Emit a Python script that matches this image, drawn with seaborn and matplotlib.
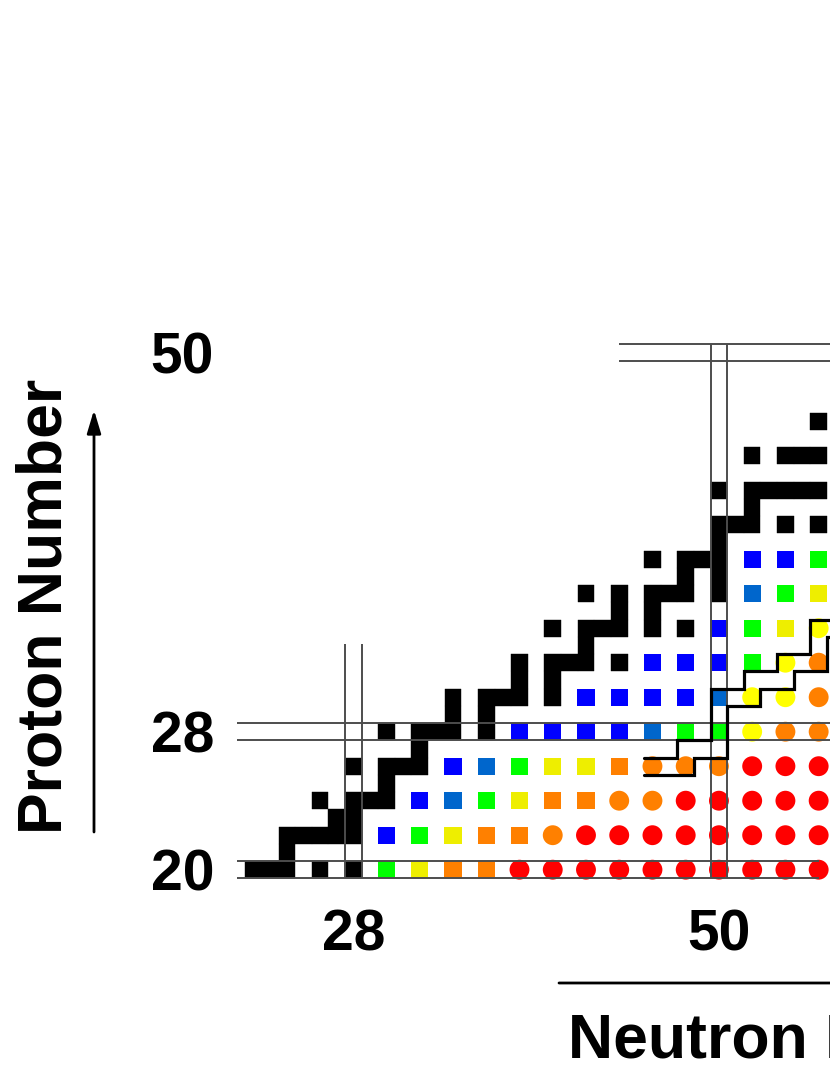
"""Segment of the nuclide chart around N=28-56, Z=20-50 (even-even nuclei coloured)."""
import matplotlib
matplotlib.use("Agg")
import matplotlib.pyplot as plt
import numpy as np
import pandas as pd
import seaborn as sns

# ---- data -------------------------------------------------------------
# even-even nuclei drawn as squares
sq_N = [30, 32, 34, 36,
        30, 32, 34, 36, 38,
        32, 34, 36, 38, 40, 42,
        34, 36, 38, 40, 42, 44,
        38, 40, 42, 44, 46, 48, 50,
        42, 44, 46, 48, 50,
        46, 48, 50, 52,
        50, 52, 54,
        52, 54, 56,
        52, 54, 56]
sq_Z = [20, 20, 20, 20,
        22, 22, 22, 22, 22,
        24, 24, 24, 24, 24, 24,
        26, 26, 26, 26, 26, 26,
        28, 28, 28, 28, 28, 28, 28,
        30, 30, 30, 30, 30,
        32, 32, 32, 32,
        34, 34, 34,
        36, 36, 36,
        38, 38, 38]
sq_cls = ["green", "yellow", "orange", "orange",
          "blue", "green", "yellow", "orange", "orange",
          "blue", "dblue", "green", "yellow", "orange", "orange",
          "blue", "dblue", "green", "yellow", "yellow", "orange",
          "blue", "blue", "blue", "blue", "dblue", "green", "green",
          "blue", "blue", "blue", "blue", "dblue",
          "blue", "blue", "blue", "green",
          "blue", "green", "yellow",
          "dblue", "green", "yellow",
          "blue", "blue", "green"]

# even-even nuclei drawn as circles
ci_N = [38, 40, 42, 44, 46, 48, 50, 52, 54, 56,
        40, 42, 44, 46, 48, 50, 52, 54, 56,
        44, 46, 48, 50, 52, 54, 56,
        46, 48, 50, 52, 54, 56,
        52, 54, 56,
        52, 54, 56,
        54, 56,
        56]
ci_Z = [20, 20, 20, 20, 20, 20, 20, 20, 20, 20,
        22, 22, 22, 22, 22, 22, 22, 22, 22,
        24, 24, 24, 24, 24, 24, 24,
        26, 26, 26, 26, 26, 26,
        28, 28, 28,
        30, 30, 30,
        32, 32,
        34]
ci_cls = ["red", "red", "red", "red", "red", "red", "red", "red", "red", "red",
          "orange", "red", "red", "red", "red", "red", "red", "red", "red",
          "orange", "orange", "red", "red", "red", "red", "red",
          "orange", "orange", "orange", "red", "red", "red",
          "yellow", "orange", "orange",
          "yellow", "yellow", "orange",
          "yellow", "orange",
          "yellow"]

# black cells (proton number -> neutron numbers)
black_rows = {
    20: [22, 23, 24, 26, 28],
    21: [24],
    22: [24, 25, 26, 27, 28],
    23: [27, 28],
    24: [26, 28, 29, 30],
    25: [30],
    26: [28, 30, 31, 32],
    27: [32],
    28: [30, 32, 33, 34, 36],
    29: [34, 36],
    30: [34, 36, 37, 38, 40],
    31: [38, 40],
    32: [38, 40, 41, 42, 44],
    33: [42],
    34: [40, 42, 43, 44, 46, 48],
    35: [44, 46],
    36: [42, 44, 46, 47, 48, 50],
    37: [48, 50],
    38: [46, 48, 49, 50],
    39: [50],
    40: [50, 51, 52, 54, 56],
    41: [52],
    42: [50, 52, 53, 54, 55, 56],
    44: [52, 54, 55, 56],
    46: [56],
}

# stepped boundary lines (cell edges)
upper_N = [58.5, 55.5, 55.5, 53.5, 53.5, 51.5, 51.5, 49.5, 49.5, 47.5, 47.5, 45.5]
upper_Z = [34.5, 34.5, 32.5, 32.5, 31.5, 31.5, 30.5, 30.5, 27.5, 27.5, 26.5, 26.5]
lower_N = [58.5, 56.5, 56.5, 54.5, 54.5, 52.5, 52.5, 50.5, 50.5, 48.5, 48.5, 45.5]
lower_Z = [33.5, 33.5, 31.5, 31.5, 30.5, 30.5, 29.5, 29.5, 26.5, 26.5, 25.5, 25.5]

# magic-number double lines
magic_Z = [20, 28, 50]
magic_Z_from = [21, 21, 44]
magic_Z_to = [56.05, 58.5, 58.5]
magic_N = [28, 50]
magic_N_top = [33.07, 50.5]

x_ticks = [28, 50]
y_ticks = [20, 28, 50]

sq_colors = {"blue": "#0000ff", "dblue": "#0066cc", "green": "#00ff00",
             "yellow": "#eeee00", "orange": "#ff8000", "red": "#ff0000"}
ci_colors = dict(sq_colors, yellow="#ffff00")

# ---- layout -----------------------------------------------------------
sns.set_theme(style="white")
plt.rcParams["font.family"] = ["Liberation Sans", "DejaVu Sans"]

W, H = 830, 1075
X0, SX = 353.3, 16.62   # pixel centre of N=28, pixels per neutron
Y0, SY = 869.7, 17.25   # pixel centre of Z=20, pixels per proton
xlim = (20.5, 58.5)
ylim = (19.0, 51.0)

fig = plt.figure(figsize=(W / 100, H / 100), dpi=100)
left_px = X0 + (xlim[0] - 28) * SX
right_px = X0 + (xlim[1] - 28) * SX
bottom_px = Y0 - (ylim[0] - 20) * SY
top_px = Y0 - (ylim[1] - 20) * SY
ax = fig.add_axes([left_px / W, 1 - bottom_px / H,
                   (right_px - left_px) / W, (bottom_px - top_px) / H])
ax.set_xlim(*xlim)
ax.set_ylim(*ylim)
for s in ax.spines.values():
    s.set_visible(False)

# black cells
bN = [n for z, ns in black_rows.items() for n in ns]
bZ = [z for z, ns in black_rows.items() for n in ns]
ax.bar(bN, 1.0, width=1.0, bottom=np.array(bZ) - 0.5, color="black",
       edgecolor="black", linewidth=0.3, zorder=2)

sq = pd.DataFrame({"N": sq_N, "Z": sq_Z, "cls": sq_cls})
ci = pd.DataFrame({"N": ci_N, "Z": ci_Z, "cls": ci_cls})
sns.scatterplot(data=sq, x="N", y="Z", hue="cls", palette=sq_colors, marker="s",
                s=155, linewidth=0, legend=False, ax=ax, zorder=2)
sns.scatterplot(data=ci, x="N", y="Z", hue="cls", palette=ci_colors, marker="o",
                s=205, linewidth=0, legend=False, ax=ax, zorder=2)

gray = "#4d4d4d"
for z, a, b in zip(magic_Z, magic_Z_from, magic_Z_to):
    ax.hlines([z - 0.5, z + 0.5], a, b, color=gray, lw=1.4, zorder=3)
for n, top in zip(magic_N, magic_N_top):
    ax.vlines([n - 0.5, n + 0.5], 19.5, top, color=gray, lw=1.4, zorder=3)

ax.plot(upper_N, upper_Z, color="black", lw=2.3, zorder=4, solid_joinstyle="miter")
ax.plot(lower_N, lower_Z, color="black", lw=2.3, zorder=4, solid_joinstyle="miter")

ax.set_xticks(x_ticks, labels=[str(t) for t in x_ticks], fontsize=41,
              fontweight="bold", color="black")
ax.set_yticks(y_ticks, labels=[str(t) for t in y_ticks], fontsize=41,
              fontweight="bold", color="black")
ax.tick_params(axis="x", length=0, pad=15.5, colors="black")
ax.tick_params(axis="y", length=0, pad=10.5, colors="black")
ax.set_xlabel("")
ax.set_ylabel("")

# axis titles with arrows
fig.text(62 / W, 1 - 606 / H, "Proton Number", rotation=90, rotation_mode="anchor",
         ha="center", va="baseline", fontsize=45, fontweight="bold", color="black")
fig.text(568 / W, 1 - 1058 / H, "Neutron Number", ha="left", va="baseline",
         fontsize=45, fontweight="bold", color="black")
arrow = dict(arrowstyle="-|>,head_length=1.4,head_width=0.42", color="black",
             lw=2.0, mutation_scale=10, shrinkA=0, shrinkB=0)
fig.add_artist(matplotlib.patches.FancyArrowPatch((94 / W, 1 - 832 / H), (94 / W, 1 - 410 / H),
                                                  transform=fig.transFigure, **arrow))
fig.add_artist(matplotlib.patches.FancyArrowPatch((559 / W, 1 - 983 / H), (1300 / W, 1 - 983 / H),
                                                  transform=fig.transFigure, **arrow))

fig.savefig("out.png", dpi=100)
